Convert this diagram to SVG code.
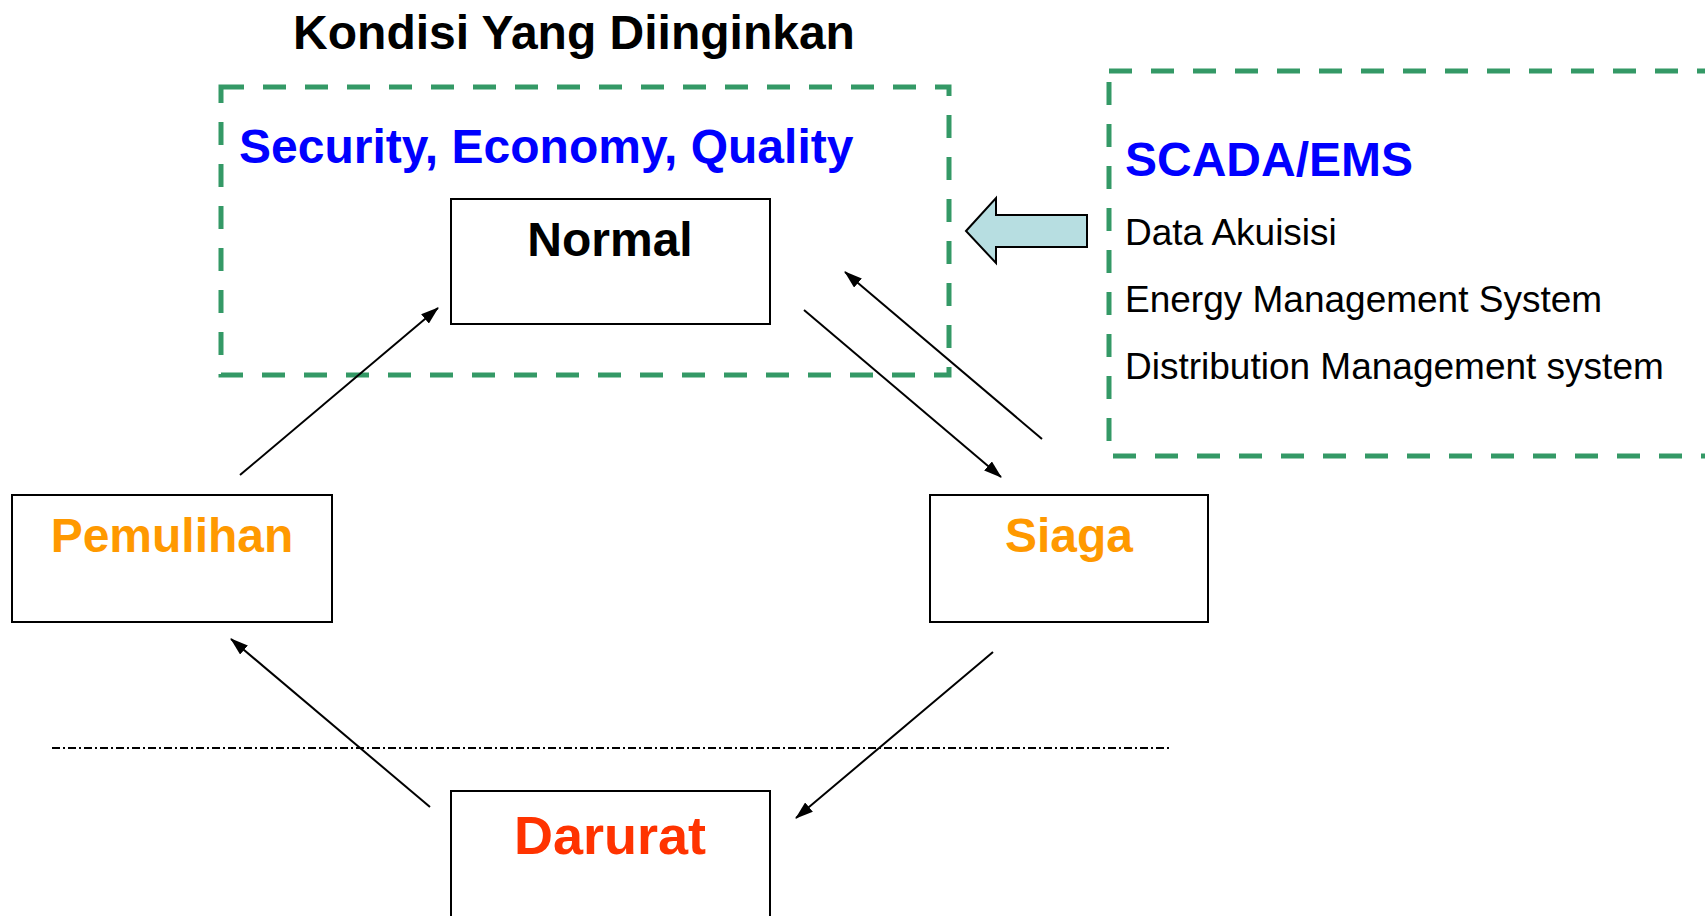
<svg xmlns="http://www.w3.org/2000/svg" width="1705" height="916" viewBox="0 0 1705 916">
<style>
.t{font-family:"Liberation Sans",Arial,sans-serif;font-weight:bold;font-size:48px}
.r{font-family:"Liberation Sans",Arial,sans-serif;font-size:37px;fill:#000}
.box{fill:#fff;stroke:#000;stroke-width:2}
.dash{fill:none;stroke:#349966;stroke-width:5;stroke-dasharray:23 19}
.conn{stroke:#000;stroke-width:2;fill:none;marker-end:url(#ah)}
</style>
<defs>
<marker id="ah" viewBox="0 0 18 12" refX="17" refY="6" markerWidth="18" markerHeight="12" markerUnits="userSpaceOnUse" orient="auto">
<path d="M0,0 L18,6 L0,12 Z" fill="#000"/>
</marker>
</defs>
<rect width="1705" height="916" fill="#fff"/>
<text class="t" x="574" y="49" text-anchor="middle" fill="#000">Kondisi Yang Diinginkan</text>
<g id="desired">
<rect class="dash" x="221" y="87" width="728" height="288"/>
<text class="t" x="239" y="163" fill="#0000FF">Security, Economy, Quality</text>
</g>
<g id="scada">
<rect class="dash" x="1109" y="71" width="640" height="385"/>
<text class="t" x="1125" y="176" fill="#0000FF">SCADA/EMS</text>
<text class="r" x="1125" y="245">Data Akuisisi</text>
<text class="r" x="1125" y="312">Energy Management System</text>
<text class="r" x="1125" y="379">Distribution Management system</text>
</g>
<g id="blockarrow">
<path d="M966,231 L996,198 L996,215 L1087,215 L1087,247 L996,247 L996,263 Z" fill="#B7DEE1" stroke="#000" stroke-width="2"/>
</g>
<g id="normal">
<rect class="box" x="451" y="199" width="319" height="125"/>
<text class="t" x="610" y="256" text-anchor="middle" fill="#000">Normal</text>
</g>
<g id="pemulihan">
<rect class="box" x="12" y="495" width="320" height="127"/>
<text class="t" x="172" y="552" text-anchor="middle" fill="#FF9900">Pemulihan</text>
</g>
<g id="siaga">
<rect class="box" x="930" y="495" width="278" height="127"/>
<text class="t" x="1069" y="552" text-anchor="middle" fill="#FF9900">Siaga</text>
</g>
<g id="darurat">
<rect class="box" x="451" y="791" width="319" height="140"/>
<text class="t" x="610" y="854" text-anchor="middle" fill="#FF3300" style="font-size:54px">Darurat</text>
</g>
<line x1="52" y1="748" x2="1170" y2="748" stroke="#000" stroke-width="2" stroke-dasharray="8 3 2 3"/>
<g id="connectors">
<line class="conn" x1="240" y1="475" x2="438" y2="308"/>
<line class="conn" x1="804" y1="310" x2="1001" y2="477"/>
<line class="conn" x1="1042" y1="439" x2="845" y2="272"/>
<line class="conn" x1="993" y1="652" x2="796" y2="818"/>
<line class="conn" x1="430" y1="807" x2="231" y2="639"/>
</g>
</svg>
